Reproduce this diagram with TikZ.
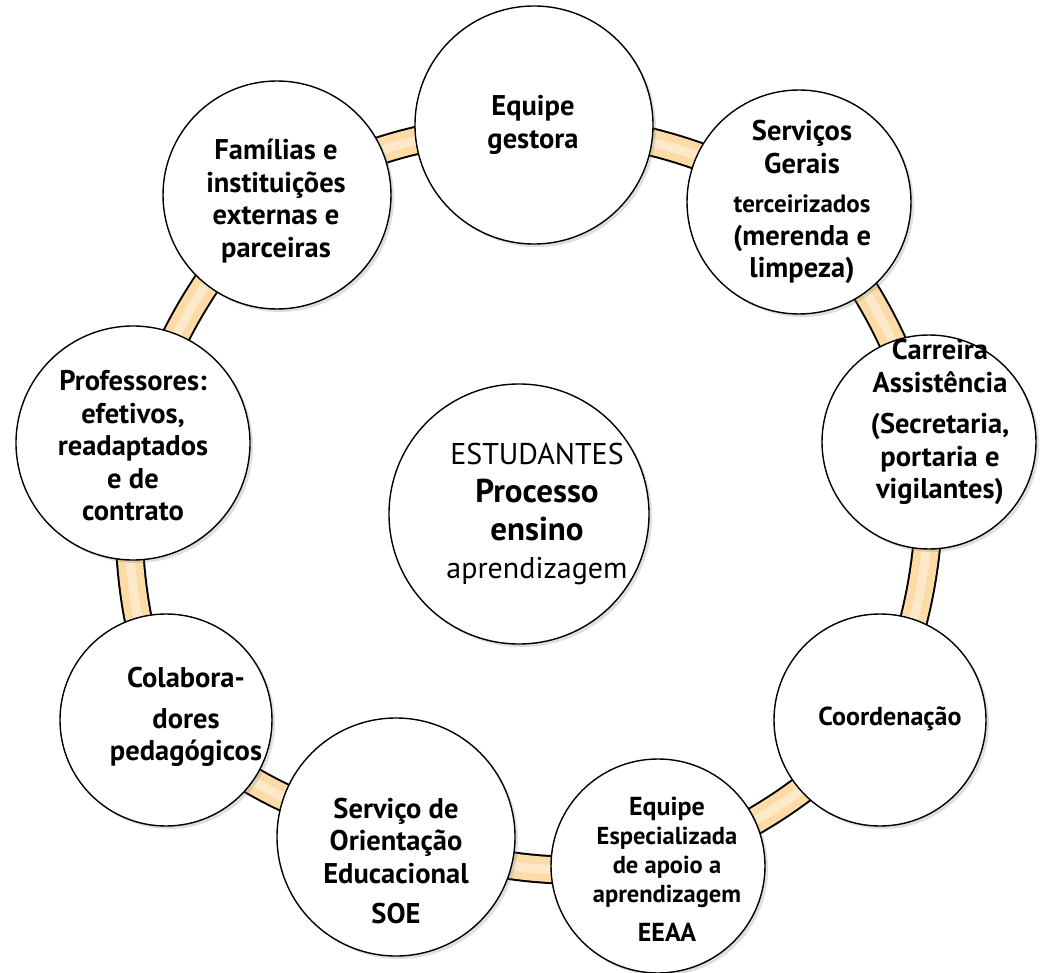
\documentclass[tikz,border=0pt]{standalone}
\usepackage{fontspec}
\setmainfont{PT Sans}
\usetikzlibrary{shadows,backgrounds}
\definecolor{peach}{RGB}{252,219,166}
\begin{document}
\begin{tikzpicture}[x=1pt,y=-1pt,
  circ/.style={circle,draw=black,line width=1.4pt,fill=white,inner sep=0pt,minimum size=#1,
    drop shadow={shadow xshift=3pt,shadow yshift=-3pt,opacity=0.25}},
  lbl/.style={align=center,font=\bfseries\fontsize{28.5}{32.5}\selectfont,inner sep=0pt},
  bandout/.style={line width=29pt,black},
  bandin/.style={line width=25pt,peach},
  bandhi/.style={line width=9pt,peach!60!white},
]
\useasboundingbox (0,0) rectangle (1041,973);
% circles
\node[circ=238pt] (gest) at (534,125) {};
\node[circ=228pt] (fam) at (277,195) {};
\node[circ=224pt] (serv) at (799,202) {};
\node[circ=214pt] (carr) at (929,442) {};
\node[circ=212pt] (coord) at (880,720) {};
\node[circ=214pt] (eeaa) at (658,866) {};
\node[circ=238pt] (soe) at (396,837) {};
\node[circ=212pt] (colab) at (166,720) {};
\node[circ=234pt] (prof) at (133,443) {};
\node[circ=260pt] (estud) at (519,514) {};
% bands
\begin{scope}[on background layer]
\fill[white] (0,0) rectangle (1041,973);
\foreach \a/\b in {gest/serv,serv/carr,carr/coord,coord/eeaa,eeaa/soe,soe/colab,colab/prof,prof/fam,fam/gest}{
  \draw[bandout] (\a.center) to[bend left=12] (\b.center);
  \draw[bandin] (\a.center) to[bend left=12] (\b.center);
  \draw[bandhi] (\a.center) to[bend left=12] (\b.center);
}
\end{scope}
% texts
\node[lbl] (gest-t) at (533,125) {Equipe\\gestora};
\node[lbl] (fam-t) at (276,201) {Famílias e\\instituições\\externas e\\parceiras};
\node[lbl] (serv-t) at (802,202) {Serviços\\Gerais\\[7pt]{\fontsize{25}{32}\selectfont terceirizados}\\(merenda e\\limpeza)};
\node[lbl] (carr-t) at (940,422) {Carreira\\Assistência\\[9pt](Secretaria,\\portaria e\\vigilantes)};
\node[lbl,font=\bfseries\fontsize{26}{28}\selectfont] (coord-t) at (890,719) {Coordenação};
\node[lbl,font=\bfseries\fontsize{24.5}{29}\selectfont] (eeaa-t) at (667,869) {{\fontsize{26}{29}\selectfont Equipe}\\Especializada\\de apoio a\\aprendizagem\\[10pt]{\fontsize{26}{29}\selectfont EEAA}};
\node[lbl] (soe-t) at (396,861) {Serviço de\\Orientação\\Educacional\\[8pt]SOE};
\node[lbl] (colab-t) at (186,717) {Colabora-\\[8pt]dores\\pedagógicos};
\node[lbl] (prof-t) at (133,446) {Professores:\\efetivos,\\readaptados\\e de\\contrato};
\node[lbl,font=\fontsize{30}{38}\selectfont] (estud-t) at (537,514) {ESTUDANTES\\{\bfseries\fontsize{33}{37}\selectfont Processo}\\{\bfseries\fontsize{33}{37}\selectfont ensino}\\aprendizagem};
\end{tikzpicture}
\end{document}
